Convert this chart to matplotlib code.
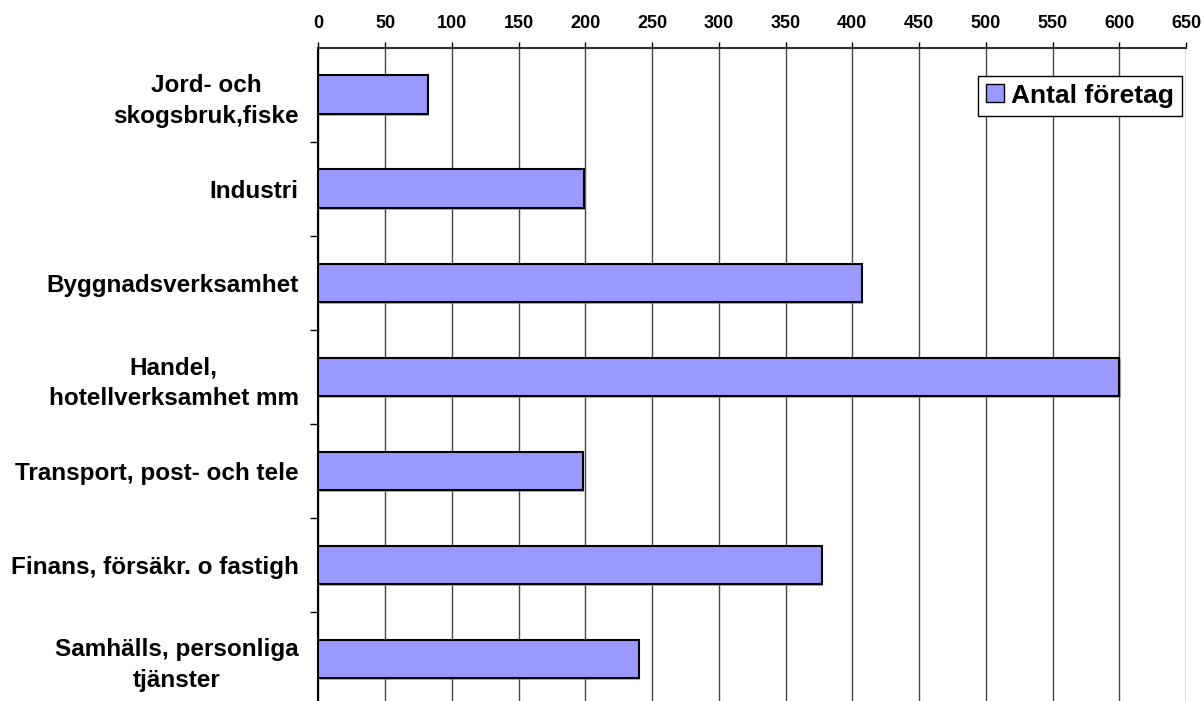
import matplotlib
matplotlib.use("Agg")
import matplotlib.pyplot as plt
from matplotlib import patheffects
import numpy as np

plt.rcParams['font.family'] = ['Liberation Sans', 'DejaVu Sans']
plt.rcParams['font.weight'] = 'bold'

categories = [
    "Jord- och\nskogsbruk,fiske",
    "Industri",
    "Byggnadsverksamhet",
    "Handel,\nhotellverksamhet mm",
    "Transport, post- och tele",
    "Finans, försäkr. o fastigh",
    "Samhälls, personliga\ntjänster",
]
antal_foretag = [82, 199, 407, 600, 198, 377, 240]
series_label = "Antal företag"
x_ticks = list(range(0, 651, 50))

W, H = 1203, 701
fig = plt.figure(figsize=(W / 100, H / 100), dpi=100)
left, right = 318.3 / W, 1186 / W
top, bottom = 1 - 47.7 / H, 1 - 706 / H
ax = fig.add_axes([left, bottom, right - left, top - bottom])

centers = np.arange(len(categories)) + 0.5
bars = ax.barh(centers, antal_foretag, height=0.41, color='#9999FF',
               edgecolor='black', linewidth=1.5, label=series_label, zorder=3)
for b in bars:
    b.set_path_effects([patheffects.SimplePatchShadow(offset=(1.2, -1.2),
                                                      shadow_rgbFace='#7f7f7f',
                                                      alpha=0.6),
                        patheffects.Normal()])

ax.set_xlim(0, 650)
ax.set_ylim(len(categories), 0)

# x axis on top with vertical gridlines
ax.xaxis.set_ticks_position('top')
ax.xaxis.set_label_position('top')
ax.set_xticks(x_ticks)
ax.set_xticklabels([str(v) for v in x_ticks], fontsize=13, fontweight='bold')
ax.tick_params(axis='x', direction='out', length=4.5, width=1, color='black', pad=7)
ax.grid(axis='x', color='#454545', linewidth=1.0, zorder=0)
ax.set_axisbelow(True)

# category labels at centres, tick marks at boundaries
ax.set_yticks(centers)
ax.set_yticklabels(categories, fontsize=17.5, fontweight='bold')
for t in ax.get_yticklabels():
    t.set_multialignment('center')
    t.set_linespacing(1.42)
ax.tick_params(axis='y', which='major', length=0, pad=14)
ax.set_yticks(np.arange(1, len(categories)), minor=True)
ax.tick_params(axis='y', which='minor', direction='out', length=6, width=1, color='black')

for s in ['right', 'bottom']:
    ax.spines[s].set_visible(False)
ax.spines['top'].set_color('#303030')
ax.spines['top'].set_linewidth(1.5)
ax.spines['left'].set_color('black')
ax.spines['left'].set_linewidth(1.5)

leg = ax.legend(loc='upper right', bbox_to_anchor=(1182 / W, 1 - 75.7 / H),
                bbox_transform=fig.transFigure, fontsize=19, frameon=True,
                fancybox=False, framealpha=1, edgecolor='black',
                handlelength=0.67, handleheight=0.67, handletextpad=0.28,
                borderpad=0.3, borderaxespad=0)
leg.get_frame().set_linewidth(1.0)
for t in leg.get_texts():
    t.set_fontweight('bold')
for h in leg.legend_handles:
    h.set_linewidth(1.0)
    h.set_path_effects([])

fig.savefig("out.png", dpi=100)
